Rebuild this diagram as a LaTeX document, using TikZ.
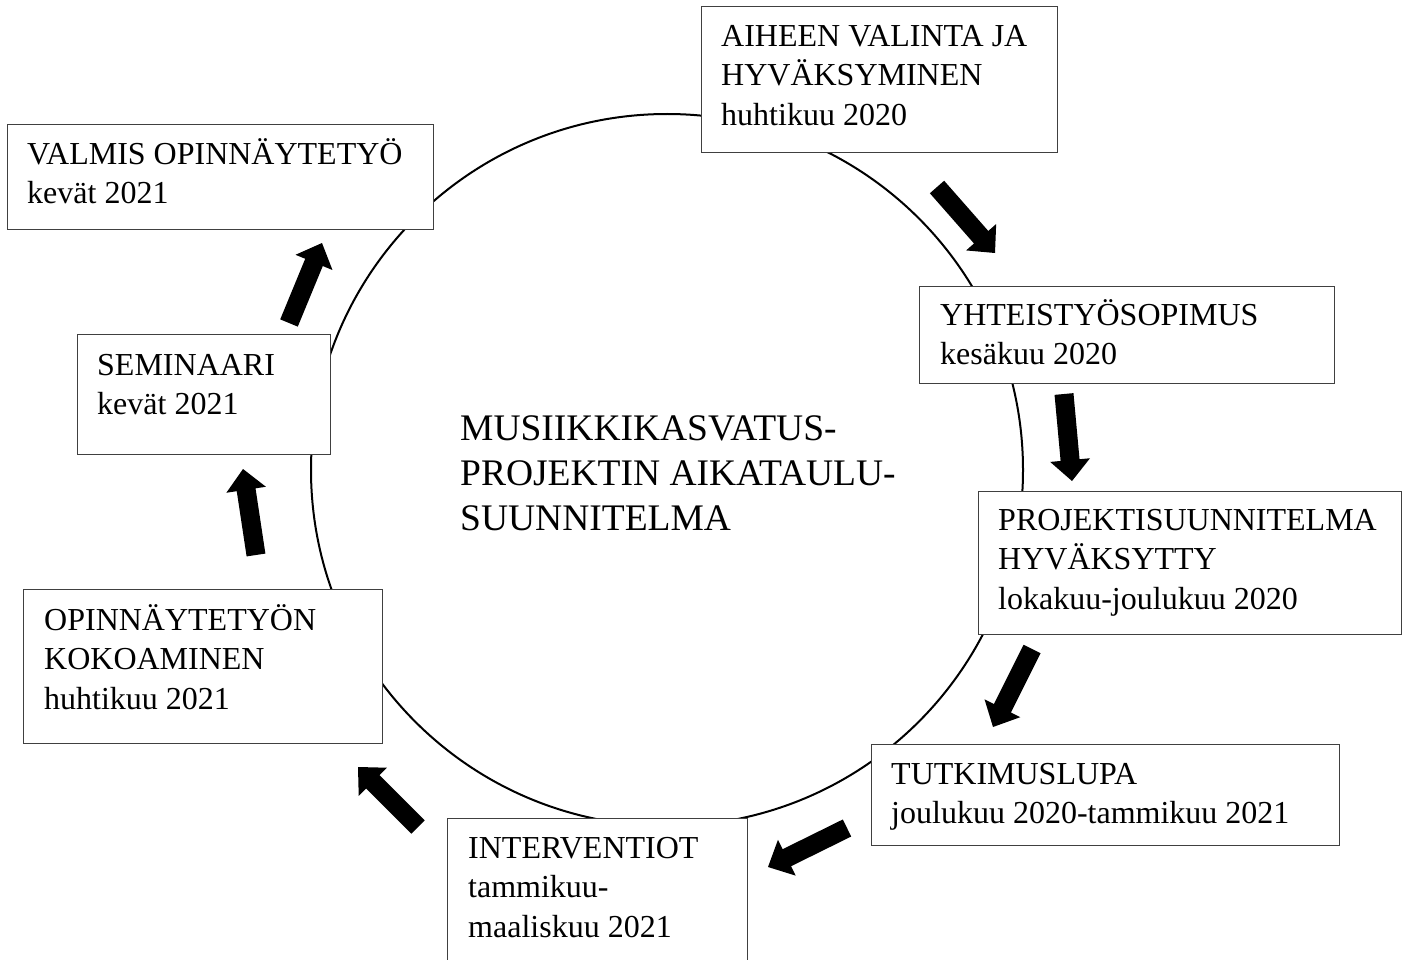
\documentclass[tikz,border=0pt]{standalone}
\usepackage{fontspec}
\setmainfont{Liberation Serif}
\usetikzlibrary{calc}
\tikzset{
  stage/.style={rectangle, draw=black!75, line width=1.4pt, fill=white, inner sep=0pt, anchor=north west},
  stagetext/.style={anchor=north west, inner sep=0pt, align=left, font=\fontsize{32}{39.5}\selectfont},
  titletext/.style={anchor=north west, inner sep=0pt, align=left, font=\fontsize{37.5}{45}\selectfont},
  ring/.style={circle, draw=black, line width=2pt, inner sep=0pt, minimum size=712pt},
  blockfill/.style={fill=black},
}
\newcommand\topstrut{\rule{0pt}{30pt}}
\newcommand\titlestrut{\rule{0pt}{34pt}}
\newcommand\flowarrow[3]{%
  \coordinate (#1t) at #2;
  \coordinate (#1p) at #3;
  \coordinate (#1b) at ($(#1p)!21pt!(#1t)$);
  \fill[blockfill] ($(#1t)!9.5pt!90:(#1p)$) -- ($(#1b)!9.5pt!90:(#1p)$) -- ($(#1b)!20pt!90:(#1p)$) -- (#1p)
    -- ($(#1b)!20pt!-90:(#1p)$) -- ($(#1b)!9.5pt!-90:(#1p)$) -- ($(#1t)!9.5pt!-90:(#1p)$) -- cycle;
}
\begin{document}
\begin{tikzpicture}[x=1pt,y=-1pt]
\useasboundingbox[fill=white] (0,0) rectangle (1408,960);

\node[ring] (ring) at (667,470) {};

\node[titletext] (title) at (460,406) {\titlestrut MUSIIKKIKASVATUS-\\PROJEKTIN AIKATAULU-\\SUUNNITELMA};

% boxes
\node[stage, minimum width=356pt, minimum height=146pt] (aihe) at (701,6) {};
\node[stagetext] (aihet) at (721,16) {\topstrut AIHEEN VALINTA JA\\HYVÄKSYMINEN\\huhtikuu 2020};

\node[stage, minimum width=415pt, minimum height=97pt] (yht) at (919,286) {};
\node[stagetext] (yhtt) at (940,295) {\topstrut YHTEISTYÖSOPIMUS\\kesäkuu 2020};

\node[stage, minimum width=423pt, minimum height=143pt] (proj) at (978,491) {};
\node[stagetext] (projt) at (998,500) {\topstrut PROJEKTISUUNNITELMA\\HYVÄKSYTTY\\lokakuu-joulukuu 2020};

\node[stage, minimum width=468pt, minimum height=101pt] (tutk) at (871,744) {};
\node[stagetext] (tutkt) at (891,754) {\topstrut TUTKIMUSLUPA\\joulukuu 2020-tammikuu 2021};

\node[stage, minimum width=300pt, minimum height=160pt] (interv) at (447,818) {};
\node[stagetext] (intervt) at (468,828) {\topstrut INTERVENTIOT\\tammikuu-\\maaliskuu 2021};

\node[stage, minimum width=359pt, minimum height=154pt] (opin) at (23,589) {};
\node[stagetext] (opint) at (44,600) {\topstrut OPINNÄYTETYÖN\\KOKOAMINEN\\huhtikuu 2021};

\node[stage, minimum width=253pt, minimum height=120pt] (sem) at (77,334) {};
\node[stagetext] (semt) at (97,345) {\topstrut SEMINAARI\\kevät 2021};

\node[stage, minimum width=426pt, minimum height=105pt] (valmis) at (7,124) {};
\node[stagetext] (valmist) at (27,134) {\topstrut VALMIS OPINNÄYTETYÖ\\kevät 2021};

% arrows
\flowarrow{a1}{(937,187)}{(995,253)}
\flowarrow{a2}{(1064,394)}{(1072,481)}
\flowarrow{a3}{(1032,649)}{(993,727)}
\flowarrow{a4}{(847,828)}{(768,867)}
\flowarrow{a5}{(418,827)}{(358,767)}
\flowarrow{a6}{(256,555)}{(243,469)}
\flowarrow{a7}{(289,323)}{(322,243)}
\end{tikzpicture}
\end{document}
